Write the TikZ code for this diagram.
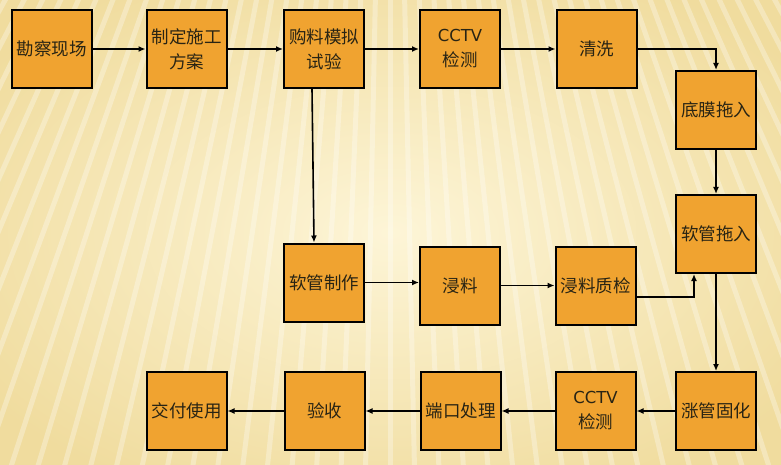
\documentclass[tikz,border=0pt]{standalone}
\usepackage{fontspec}
\newfontfamily\cjk{Noto Sans CJK SC}
\newfontfamily\latinsans{DejaVu Sans}
\usetikzlibrary{arrows.meta}
\definecolor{boxfill}{RGB}{240,163,48}
\definecolor{bglight}{RGB}{253,245,215}
\definecolor{bgdark}{RGB}{240,220,158}
\definecolor{txt}{RGB}{40,36,20}
\tikzset{
  stepbox/.style={draw=black, line width=2pt, fill=boxfill, minimum width=80pt, minimum height=78pt,
    inner sep=0pt, align=center, text=txt, font=\cjk\fontsize{17.5}{25}\selectfont},
  conn/.style={draw=black, line width=1.6pt, -{Latex[length=7pt,width=6pt]}},
  stripe/.style={draw=white, line width=5pt, opacity=0.3}
}
\begin{document}
\begin{tikzpicture}[x=1pt,y=-1pt]
\useasboundingbox (0,0) rectangle (781,465);
% background
\shade[inner color=bglight, outer color=bgdark] (-100,-60) rectangle (881,525);
\begin{scope}
\clip (0,0) rectangle (781,465);
\foreach \a in {-60,-58.8,...,60} {
  \draw[stripe] (390,-700) -- ++({90+\a}:1300);
}
\end{scope}
% nodes
\node[stepbox] (n1) at (51.5,49) {勘察现场};
\node[stepbox] (n2) at (186.5,49) {制定施工\\方案};
\node[stepbox] (n3) at (324,49) {购料模拟\\试验};
\node[stepbox] (n4) at (460,49) {{\latinsans\fontsize{16.5}{25}\selectfont CCTV}\\检测};
\node[stepbox] (n5) at (596.5,49) {清洗};
\node[stepbox] (n6) at (716,110) {底膜拖入};
\node[stepbox] (n7) at (716,234) {软管拖入};
\node[stepbox] (n8) at (324,282.5) {软管制作};
\node[stepbox] (n9) at (460,285.5) {浸料};
\node[stepbox] (n10) at (595.5,285.5) {浸料质检};
\node[stepbox] (n11) at (716,411) {涨管固化};
\node[stepbox] (n12) at (595.5,411) {{\latinsans\fontsize{16.5}{25}\selectfont CCTV}\\检测};
\node[stepbox] (n13) at (460.5,411) {端口处理};
\node[stepbox] (n14) at (324.5,411) {验收};
\node[stepbox] (n15) at (186.5,411) {交付使用};
% connectors
\draw[conn] (n1) -- (n2);
\draw[conn] (n2) -- (n3);
\draw[conn] (n3) -- (n4);
\draw[conn] (n4) -- (n5);
\draw[conn] (n5.east) -| (n6.north);
\draw[conn] (n6) -- (n7);
\draw[conn] ([xshift=-12pt]n3.south) -- ([xshift=-10pt]n8.north);
\draw[conn] (n8.east) -- (n8.east -| n9.west);
\draw[conn] (n9) -- (n10);
\draw[conn] ([yshift=-11.5pt]n10.east) -| ([xshift=-22pt]n7.south);
\draw[conn] (n7) -- (n11);
\draw[conn] (n11) -- (n12);
\draw[conn] (n12) -- (n13);
\draw[conn] (n13) -- (n14);
\draw[conn] (n14) -- (n15);
\end{tikzpicture}
\end{document}
